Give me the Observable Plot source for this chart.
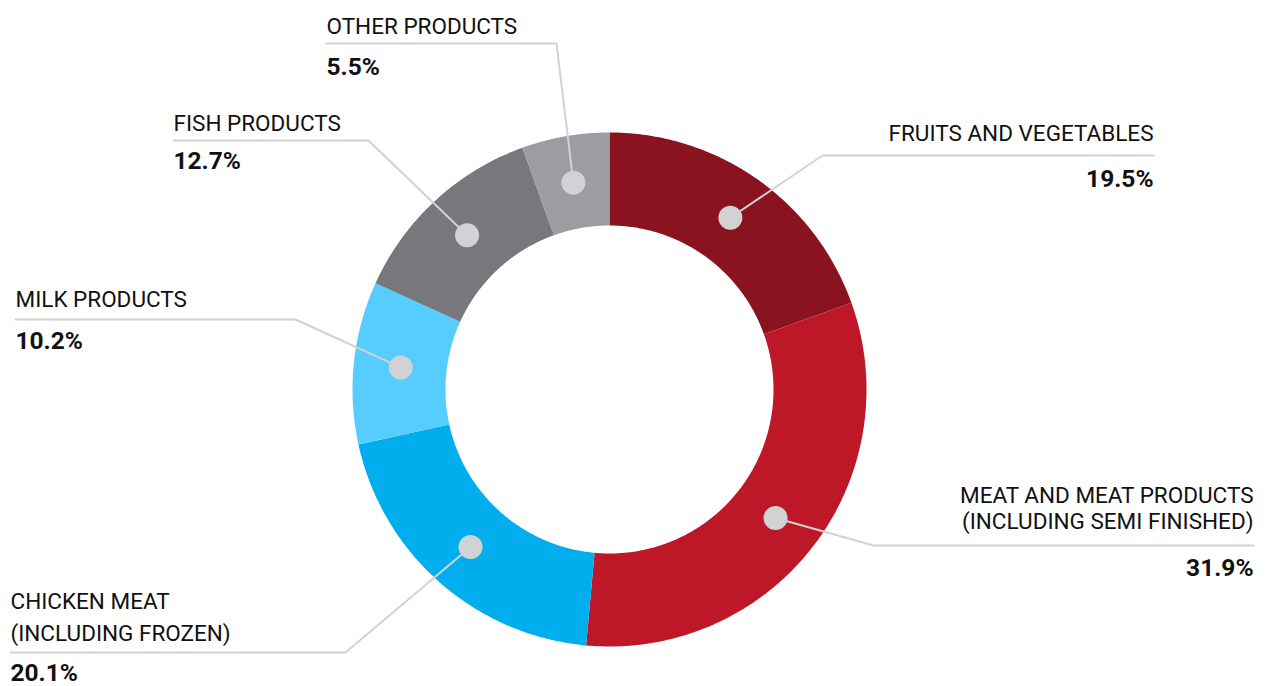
<!DOCTYPE html>
<html>
<head>
<meta charset="utf-8">
<script src="https://cdn.jsdelivr.net/npm/d3@7"></script>
<script src="https://cdn.jsdelivr.net/npm/@observablehq/plot@0.6"></script>
<style>
  html, body { margin: 0; padding: 0; background: #ffffff; }
</style>
</head>
<body>
<div id="chart"></div>
<script>
// ---- data ----
const categories = [
  "FRUITS AND VEGETABLES",
  "MEAT AND MEAT PRODUCTS\n(INCLUDING SEMI FINISHED)",
  "CHICKEN MEAT\n(INCLUDING FROZEN)",
  "MILK PRODUCTS",
  "FISH PRODUCTS",
  "OTHER PRODUCTS"
];
const shares = [19.5, 31.9, 20.1, 10.2, 12.7, 5.5];
const shareLabels = ["19.5%", "31.9%", "20.1%", "10.2%", "12.7%", "5.5%"];
const colors = ["#89131f", "#be1828", "#00aeee", "#57cdff", "#77787c", "#9c9da2"];

// ---- layout (positions of annotation text & leader elbows) ----
const cx = 609, cy = 389, rOuter = 257, rInner = 164, rDot = 210;
const labelLayout = [
  {anchor: "end",   x: 1153, names: [140],      lineY: 155, elbowX: 822, pctY: 186},
  {anchor: "end",   x: 1253, names: [502, 528], lineY: 545, elbowX: 873, pctY: 575},
  {anchor: "start", x: 10,   names: [608, 640], lineY: 652, elbowX: 345, pctY: 680},
  {anchor: "start", x: 15,   names: [306],      lineY: 319, elbowX: 295, pctY: 348},
  {anchor: "start", x: 173,  names: [130],      lineY: 140, elbowX: 368, pctY: 168},
  {anchor: "start", x: 326,  names: [33],       lineY: 43,  elbowX: 556, pctY: 74}
];

// ---- derived geometry ----
const pie = d3.pie().sort(null).value(d => d)(shares);
const px = (r, a) => cx + r * Math.sin(a);
const py = (r, a) => cy - r * Math.cos(a);

const slicePoints = [];
pie.forEach((p, i) => {
  const n = Math.max(8, Math.ceil((p.endAngle - p.startAngle) / 0.01));
  for (let k = 0; k <= n; ++k) {
    const a = p.startAngle + (p.endAngle - p.startAngle) * k / n;
    slicePoints.push({cat: categories[i], x: px(rOuter, a), y: py(rOuter, a)});
  }
  for (let k = n; k >= 0; --k) {
    const a = p.startAngle + (p.endAngle - p.startAngle) * k / n;
    slicePoints.push({cat: categories[i], x: px(rInner, a), y: py(rInner, a)});
  }
});

const dots = pie.map((p, i) => {
  const a = (p.startAngle + p.endAngle) / 2;
  return {cat: categories[i], x: px(rDot, a), y: py(rDot, a)};
});

const leaderPoints = [];
dots.forEach((d, i) => {
  const L = labelLayout[i];
  leaderPoints.push({cat: d.cat, x: d.x, y: d.y});
  leaderPoints.push({cat: d.cat, x: L.elbowX, y: L.lineY});
  leaderPoints.push({cat: d.cat, x: L.x, y: L.lineY});
});

const nameRows = [];
const pctRows = [];
categories.forEach((c, i) => {
  const L = labelLayout[i];
  c.split("\n").forEach((line, j) => {
    nameRows.push({text: line, x: L.x, y: L.names[j], anchor: L.anchor});
  });
  pctRows.push({text: shareLabels[i], x: L.x, y: L.pctY, anchor: L.anchor});
});

const font = "Roboto, 'Open Sans', sans-serif";

const chart = Plot.plot({
  width: 1268,
  height: 686,
  margin: 0,
  x: {domain: [0, 1268], range: [0, 1268], axis: null},
  y: {domain: [0, 686], range: [0, 686], axis: null},
  color: {domain: categories, range: colors},
  style: {fontFamily: font, background: "#ffffff"},
  marks: [
    Plot.line(slicePoints, {x: "x", y: "y", z: "cat", fill: "cat", stroke: "none"}),
    Plot.line(leaderPoints, {x: "x", y: "y", z: "cat", stroke: "#d1d2d4", strokeWidth: 2}),
    Plot.dot(dots, {x: "x", y: "y", r: 12, fill: "#d1d2d4", stroke: "none"}),
    Plot.text(nameRows.filter(d => d.anchor === "start"), {x: "x", y: "y", text: "text", textAnchor: "start", lineAnchor: "bottom", fontSize: 22.5, fill: "#111111", fontFamily: font}),
    Plot.text(nameRows.filter(d => d.anchor === "end"), {x: "x", y: "y", text: "text", textAnchor: "end", lineAnchor: "bottom", fontSize: 22.5, fill: "#111111", fontFamily: font}),
    Plot.text(pctRows.filter(d => d.anchor === "start"), {x: "x", y: "y", text: "text", textAnchor: "start", lineAnchor: "bottom", fontSize: 24.5, fontWeight: "bold", fill: "#111111", fontFamily: font}),
    Plot.text(pctRows.filter(d => d.anchor === "end"), {x: "x", y: "y", text: "text", textAnchor: "end", lineAnchor: "bottom", fontSize: 24.5, fontWeight: "bold", fill: "#111111", fontFamily: font})
  ]
});
document.getElementById("chart").appendChild(chart);
</script>
</body>
</html>
